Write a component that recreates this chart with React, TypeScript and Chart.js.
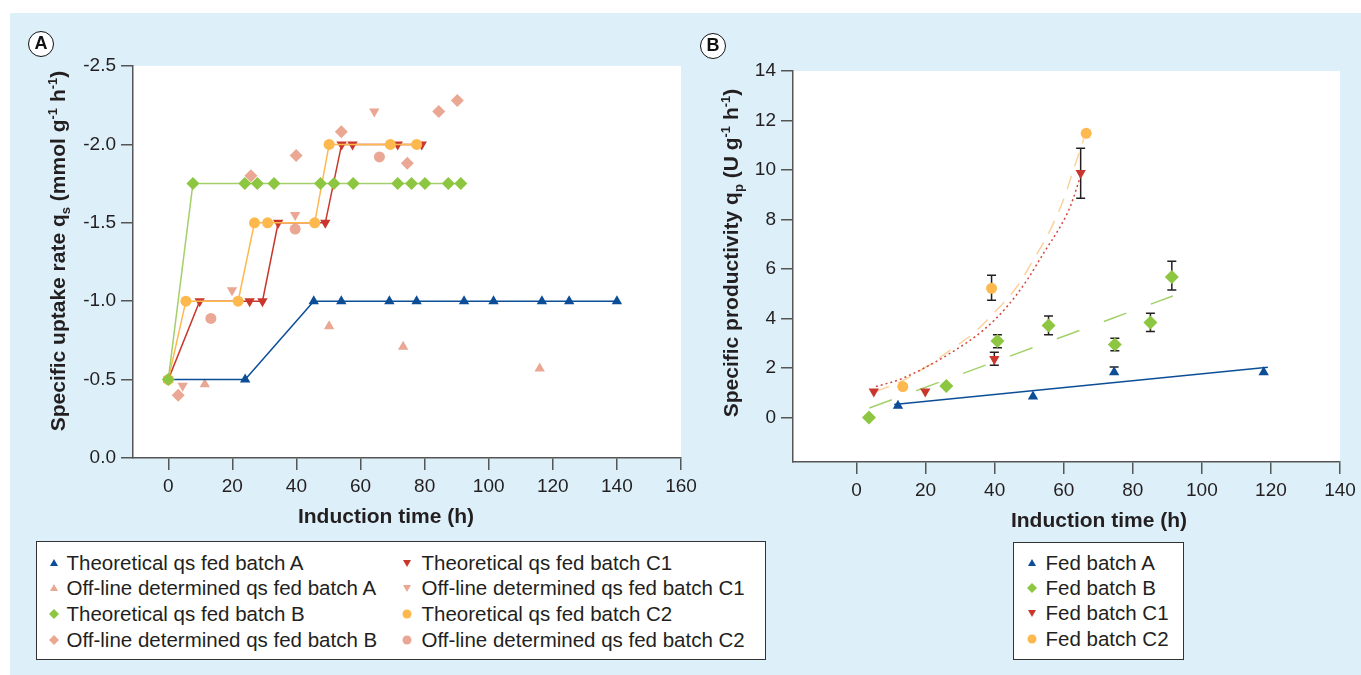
import React, { useEffect, useRef } from 'react';
import { Chart, registerables } from 'chart.js';

Chart.register(...registerables);

const FONT = '"Liberation Sans", Arial, Helvetica, sans-serif';
const C_BLUE = '#0B4E97';
const C_SALMON = '#E9A794';
const C_GREEN = '#8DC641';
const C_GREEN_LINE = '#A3D06A';
const C_RED = '#C9372C';
const C_ORANGE = '#FDB94E';
const C_ORANGE_LINE = '#FCD29B';
const BG = '#DDEFF9';
const TXT = '#231F20';
const AXIS = '#555555';

// ---------------- Panel A data ----------------
const aXTicks = [0, 20, 40, 60, 80, 100, 120, 140, 160];
const aYTicks = [-2.5, -2.0, -1.5, -1.0, -0.5, 0.0];

const thAx = [0, 24, 45.4, 54, 69, 77.5, 92.3, 101.5, 116.6, 125.1, 140];
const thAy = [-0.5, -0.5, -1, -1, -1, -1, -1, -1, -1, -1, -1];
const offAx = [11.4, 50.2, 73.3, 115.9];
const offAy = [-0.47, -0.84, -0.71, -0.57];
const thBx = [0, 7.7, 23.9, 27.8, 33.0, 47.5, 51.7, 57.7, 71.6, 75.9, 80.1, 87.4, 91.3];
const thBy = [-0.5, -1.75, -1.75, -1.75, -1.75, -1.75, -1.75, -1.75, -1.75, -1.75, -1.75, -1.75, -1.75];
const offBx = [3.1, 25.8, 39.9, 54.0, 74.6, 84.4, 90.2];
const offBy = [-0.40, -1.80, -1.93, -2.08, -1.88, -2.21, -2.28];
const thC1x = [0, 9.8, 25.4, 29.4, 34.3, 49.0, 54.1, 57.5, 71.6, 79.1];
const thC1y = [-0.5, -1, -1, -1, -1.5, -1.5, -2, -2, -2, -2];
const offC1x = [4.5, 19.9, 39.6, 64.3];
const offC1y = [-0.46, -1.07, -1.55, -2.21];
const thC2x = [0, 5.5, 21.8, 26.9, 31.0, 45.7, 50.2, 69.3, 77.5];
const thC2y = [-0.5, -1, -1, -1.5, -1.5, -1.5, -2, -2, -2];
const offC2x = [13.3, 39.6, 65.9];
const offC2y = [-0.89, -1.46, -1.92];

const namesA = [
  'Theoretical qs fed batch A',
  'Off-line determined qs fed batch A',
  'Theoretical qs fed batch B',
  'Off-line determined qs fed batch B',
  'Theoretical qs fed batch C1',
  'Off-line determined qs fed batch C1',
  'Theoretical qs fed batch C2',
  'Off-line determined qs fed batch C2',
];

// ---------------- Panel B data ----------------
const bXTicks = [0, 20, 40, 60, 80, 100, 120, 140];
const bYTicks = [0, 2, 4, 6, 8, 10, 12, 14];

const fbAx = [12, 51.1, 74.6, 117.9];
const fbAy = [0.47, 0.85, 1.83, 1.83];
const fbAlo = [null, null, 1.83, null];
const fbAhi = [null, null, 2.04, null];

const fbBx = [3.6, 26, 40.8, 55.6, 74.8, 85.1, 91.3];
const fbBy = [0.0, 1.27, 3.09, 3.72, 2.95, 3.84, 5.68];
const fbBlo = [null, null, 2.82, 3.34, 2.7, 3.47, 5.15];
const fbBhi = [null, null, 3.34, 4.1, 3.2, 4.21, 6.31];

const fbC1x = [5, 19.9, 39.9, 64.9];
const fbC1y = [1.05, 1.05, 2.36, 9.88];
const fbC1lo = [null, null, 2.11, 8.86];
const fbC1hi = [null, null, 2.63, 10.88];

const fbC2x = [13.4, 39.1, 66.5];
const fbC2y = [1.25, 5.22, 11.48];
const fbC2lo = [null, 4.74, null];
const fbC2hi = [null, 5.75, null];

const trAx = [10.9, 119.1];
const trAy = [0.52, 2.03];
const trBx = [3.7, 91.6];
const trBy = [0.38, 4.91];
const trC1x = [5.6, 12.8, 27.3, 36.9, 43.7, 49.5, 54.3, 59.1, 62.0, 64.9];
const trC1y = [1.25, 1.55, 2.61, 3.55, 4.5, 5.58, 6.67, 7.74, 8.56, 9.77];
const trC2x = [5.6, 12.8, 20.5, 27.3, 34.0, 40.8, 46.6, 51.3, 56.2, 60.0, 62.9, 65.8];
const trC2y = [1.05, 1.45, 2.07, 2.74, 3.42, 4.37, 5.31, 6.39, 7.61, 8.83, 10.04, 11.26];

const namesB = ['Fed batch A', 'Fed batch B', 'Fed batch C1', 'Fed batch C2'];

// ---------------- helpers ----------------
const pts = (xs: number[], ys: number[]) => xs.map((x, i) => ({ x, y: ys[i] }));

type Part = { t: string; s?: 'sub' | 'sup' };

function drawRich(ctx: CanvasRenderingContext2D, parts: Part[], x: number, y: number, size: number, rotate: boolean) {
  ctx.save();
  ctx.translate(x, y);
  if (rotate) ctx.rotate(-Math.PI / 2);
  const main = `bold ${size}px ${FONT}`;
  const small = `bold ${Math.round(size * 0.62)}px ${FONT}`;
  let total = 0;
  for (const p of parts) {
    ctx.font = p.s ? small : main;
    total += ctx.measureText(p.t).width;
  }
  let cx = -total / 2;
  ctx.textBaseline = 'alphabetic';
  ctx.textAlign = 'left';
  ctx.fillStyle = TXT;
  for (const p of parts) {
    ctx.font = p.s ? small : main;
    const dy = p.s === 'sub' ? size * 0.22 : p.s === 'sup' ? -size * 0.38 : 0;
    ctx.fillText(p.t, cx, dy + size * 0.35);
    cx += ctx.measureText(p.t).width;
  }
  ctx.restore();
}

const plotBg = {
  id: 'plotBg',
  beforeDraw(chart: any) {
    const { ctx, chartArea } = chart;
    ctx.save();
    ctx.fillStyle = '#ffffff';
    ctx.fillRect(chartArea.left, chartArea.top, chartArea.right - chartArea.left, chartArea.bottom - chartArea.top);
    ctx.restore();
  },
};

function titlesPlugin(yParts: Part[], yPos: [number, number], xText: string, xPos: [number, number]) {
  return {
    id: 'titles',
    afterDraw(chart: any) {
      const ctx = chart.ctx;
      drawRich(ctx, yParts, yPos[0], yPos[1], 21, true);
      drawRich(ctx, [{ t: xText }], xPos[0], xPos[1], 21, false);
    },
  };
}

const errorBars = {
  id: 'errorBars',
  beforeDatasetsDraw(chart: any) {
    const { ctx } = chart;
    const xs = chart.scales.x;
    const ys = chart.scales.y;
    ctx.save();
    ctx.strokeStyle = TXT;
    ctx.lineWidth = 1.5;
    chart.data.datasets.forEach((ds: any) => {
      if (!ds.errLo) return;
      ds.data.forEach((p: any, i: number) => {
        const lo = ds.errLo[i];
        const hi = ds.errHi[i];
        if (lo == null || hi == null) return;
        const px = xs.getPixelForValue(p.x);
        const pl = ys.getPixelForValue(lo);
        const ph = ys.getPixelForValue(hi);
        ctx.beginPath();
        ctx.moveTo(px, pl);
        ctx.lineTo(px, ph);
        if (hi !== p.y) { ctx.moveTo(px - 4.5, ph); ctx.lineTo(px + 4.5, ph); }
        if (lo !== p.y) { ctx.moveTo(px - 4.5, pl); ctx.lineTo(px + 4.5, pl); }
        ctx.stroke();
      });
    });
    ctx.restore();
  },
};

function axisCommon(min: number, max: number, ticks: number[], fmt: (v: number) => string, size: { w?: number; h?: number }) {
  return {
    type: 'linear',
    min,
    max,
    afterBuildTicks: (s: any) => { s.ticks = ticks.map((v) => ({ value: v })); },
    afterFit: (s: any) => {
      if (size.w != null) s.width = size.w;
      if (size.h != null) s.height = size.h;
      s.paddingLeft = 0; s.paddingRight = 0; s.paddingTop = 0; s.paddingBottom = 0;
    },
    grid: { drawOnChartArea: false, drawTicks: true, tickLength: 12, color: AXIS, lineWidth: 1.5 },
    border: { display: true, color: AXIS, width: 1.5 },
    ticks: {
      color: TXT,
      font: { family: FONT, size: 19 },
      padding: 5,
      autoSkip: false,
      maxRotation: 0,
      callback: (v: any) => fmt(Number(v)),
    },
  };
}

function lineSet(label: string, xs: number[], ys: number[], color: string, lineColor: string, style: string, r: number, rot = 0, order = 0) {
  return {
    label,
    data: pts(xs, ys),
    showLine: true,
    borderColor: lineColor,
    borderWidth: 1.5,
    backgroundColor: color,
    pointBackgroundColor: color,
    pointBorderColor: color,
    pointBorderWidth: 0,
    pointStyle: style,
    pointRadius: r,
    pointRotation: rot,
    order,
  };
}

function markSet(label: string, xs: number[], ys: number[], color: string, style: string, r: number, rot = 0, order = 0, extra: any = {}) {
  return {
    label,
    data: pts(xs, ys),
    showLine: false,
    backgroundColor: color,
    borderColor: color,
    pointBackgroundColor: color,
    pointBorderColor: color,
    pointBorderWidth: 0,
    pointStyle: style,
    pointRadius: r,
    pointRotation: rot,
    order,
    ...extra,
  };
}

function trendSet(xs: number[], ys: number[], color: string, dash: number[], order = 5) {
  return {
    label: '',
    data: pts(xs, ys),
    showLine: true,
    borderColor: color,
    borderWidth: 1.5,
    borderDash: dash,
    pointRadius: 0,
    cubicInterpolationMode: 'monotone',
    order,
  };
}

function ChartA() {
  const ref = useRef<HTMLCanvasElement>(null);
  useEffect(() => {
    const chart = new Chart(ref.current!, {
      type: 'scatter',
      data: {
        datasets: [
          lineSet(namesA[2], thBx, thBy, C_GREEN, C_GREEN_LINE, 'rectRot', 6.5, 0, 0),
          lineSet(namesA[6], thC2x, thC2y, C_ORANGE, C_ORANGE, 'circle', 5.5, 0, 1),
          lineSet(namesA[4], thC1x, thC1y, C_RED, C_RED, 'triangle', 6, 180, 2),
          lineSet(namesA[0], thAx, thAy, C_BLUE, C_BLUE, 'triangle', 6, 0, 3),
          markSet(namesA[1], offAx, offAy, C_SALMON, 'triangle', 6, 0, 4),
          markSet(namesA[3], offBx, offBy, C_SALMON, 'rectRot', 6.5, 0, 4),
          markSet(namesA[5], offC1x, offC1y, C_SALMON, 'triangle', 6, 180, 4),
          markSet(namesA[7], offC2x, offC2y, C_SALMON, 'circle', 5.5, 0, 4),
        ] as any,
      },
      options: {
        animation: false,
        responsive: false,
        events: [],
        layout: { padding: { left: 0, top: 54, right: 29, bottom: 0 } },
        plugins: { legend: { display: false }, tooltip: { enabled: false } },
        scales: {
          x: axisCommon(-11, 160, aXTicks, (v) => String(v), { h: 77 }),
          y: { ...axisCommon(-2.5, 0, aYTicks, (v) => v.toFixed(1), { w: 123 }), reverse: true },
        } as any,
      },
      plugins: [
        plotBg,
        titlesPlugin(
          [
            { t: 'Specific uptake rate q' }, { t: 's', s: 'sub' }, { t: ' (mmol g' }, { t: '-1', s: 'sup' },
            { t: ' h' }, { t: '-1', s: 'sup' }, { t: ')' },
          ],
          [48, 239],
          'Induction time (h)',
          [376, 504],
        ),
      ],
    } as any);
    return () => chart.destroy();
  }, []);
  return <canvas ref={ref} width={700} height={523} style={{ position: 'absolute', left: 10, top: 12 }} />;
}

function ChartB() {
  const ref = useRef<HTMLCanvasElement>(null);
  useEffect(() => {
    const chart = new Chart(ref.current!, {
      type: 'scatter',
      data: {
        datasets: [
          markSet(namesB[0], fbAx, fbAy, C_BLUE, 'triangle', 6, 0, 0, { errLo: fbAlo, errHi: fbAhi }),
          markSet(namesB[1], fbBx, fbBy, C_GREEN, 'rectRot', 7, 0, 0, { errLo: fbBlo, errHi: fbBhi }),
          markSet(namesB[2], fbC1x, fbC1y, C_RED, 'triangle', 6, 180, 0, { errLo: fbC1lo, errHi: fbC1hi }),
          markSet(namesB[3], fbC2x, fbC2y, C_ORANGE, 'circle', 5.5, 0, 0, { errLo: fbC2lo, errHi: fbC2hi }),
          trendSet(trAx, trAy, C_BLUE, []),
          trendSet(trBx, trBy, C_GREEN_LINE, [24, 26]),
          trendSet(trC1x, trC1y, '#D2473B', [2, 3]),
          trendSet(trC2x, trC2y, C_ORANGE_LINE, [14, 10]),
        ] as any,
      },
      options: {
        animation: false,
        responsive: false,
        events: [],
        layout: { padding: { left: 0, top: 59, right: 21, bottom: 0 } },
        plugins: { legend: { display: false }, tooltip: { enabled: false } },
        scales: {
          x: axisCommon(-18.4, 140, bXTicks, (v) => String(v), { h: 73 }),
          y: axisCommon(-1.8, 14, bYTicks, (v) => String(v), { w: 93 }),
        } as any,
      },
      plugins: [
        plotBg,
        errorBars,
        titlesPlugin(
          [
            { t: 'Specific productivity q' }, { t: 'p', s: 'sub' }, { t: ' (U g' }, { t: '-1', s: 'sup' },
            { t: ' h' }, { t: '-1', s: 'sup' }, { t: ')' },
          ],
          [31, 241],
          'Induction time (h)',
          [399, 508],
        ),
      ],
    } as any);
    return () => chart.destroy();
  }, []);
  return <canvas ref={ref} width={661} height={523} style={{ position: 'absolute', left: 700, top: 12 }} />;
}

type Shape = 'up' | 'down' | 'diamond' | 'circle';

function Marker({ shape, color, cx, cy }: { shape: Shape; color: string; cx: number; cy: number }) {
  return (
    <svg width={14} height={14} viewBox="-7 -7 14 14" style={{ position: 'absolute', left: cx - 7, top: cy - 7 }}>
      {shape === 'up' && <polygon points="0,-4 4,3 -4,3" fill={color} />}
      {shape === 'down' && <polygon points="0,4 4,-3 -4,-3" fill={color} />}
      {shape === 'diamond' && <polygon points="0,-5 5,0 0,5 -5,0" fill={color} />}
      {shape === 'circle' && <circle cx={0} cy={0} r={4.5} fill={color} />}
    </svg>
  );
}

function LegendItem({ shape, color, label, mx, tx, cy }: { shape: Shape; color: string; label: string; mx: number; tx: number; cy: number }) {
  return (
    <>
      <Marker shape={shape} color={color} cx={mx} cy={cy} />
      <div style={{ position: 'absolute', left: tx, top: cy - 13, height: 26, lineHeight: '26px', fontSize: 20.5, whiteSpace: 'nowrap', color: TXT }}>
        {label}
      </div>
    </>
  );
}

const legendAItems: { shape: Shape; color: string; idx: number }[] = [
  { shape: 'up', color: C_BLUE, idx: 0 },
  { shape: 'up', color: C_SALMON, idx: 1 },
  { shape: 'diamond', color: C_GREEN, idx: 2 },
  { shape: 'diamond', color: C_SALMON, idx: 3 },
  { shape: 'down', color: C_RED, idx: 4 },
  { shape: 'down', color: C_SALMON, idx: 5 },
  { shape: 'circle', color: C_ORANGE, idx: 6 },
  { shape: 'circle', color: C_SALMON, idx: 7 },
];

const legendBItems: { shape: Shape; color: string }[] = [
  { shape: 'up', color: C_BLUE },
  { shape: 'diamond', color: C_GREEN },
  { shape: 'down', color: C_RED },
  { shape: 'circle', color: C_ORANGE },
];

function Circled({ letter, cx, cy }: { letter: string; cx: number; cy: number }) {
  return (
    <div
      style={{
        position: 'absolute', left: cx - 13, top: cy - 13, width: 26, height: 26, boxSizing: 'border-box',
        border: '1.6px solid #111', borderRadius: '50%', background: '#fff', textAlign: 'center',
        lineHeight: '23px', fontWeight: 'bold', fontSize: 18, color: '#111',
      }}
    >
      {letter}
    </div>
  );
}

export default function App() {
  return (
    <div style={{ position: 'absolute', left: 0, top: 0, width: 1361, height: 675, background: '#fff', fontFamily: FONT, overflow: 'hidden' }}>
      <div style={{ position: 'absolute', left: 10, top: 13, width: 1351, height: 662, background: BG }} />
      <ChartA />
      <ChartB />
      <Circled letter="A" cx={41} cy={44} />
      <Circled letter="B" cx={713} cy={46} />
      <div style={{ position: 'absolute', left: 36, top: 541, width: 730, height: 119, boxSizing: 'border-box', border: '1.3px solid #333', background: '#fff' }}>
        {legendAItems.map((it, i) => {
          const col = i < 4 ? 0 : 1;
          const row = i % 4;
          return (
            <LegendItem
              key={i}
              shape={it.shape}
              color={it.color}
              label={namesA[it.idx]}
              mx={col === 0 ? 17 : 370}
              tx={col === 0 ? 29.5 : 384.5}
              cy={20.5 + row * 25.7}
            />
          );
        })}
      </div>
      <div style={{ position: 'absolute', left: 1013, top: 542, width: 171, height: 118, boxSizing: 'border-box', border: '1.3px solid #333', background: '#fff' }}>
        {legendBItems.map((it, i) => (
          <LegendItem key={i} shape={it.shape} color={it.color} label={namesB[i]} mx={18} tx={31.5} cy={20 + i * 25.2} />
        ))}
      </div>
    </div>
  );
}
